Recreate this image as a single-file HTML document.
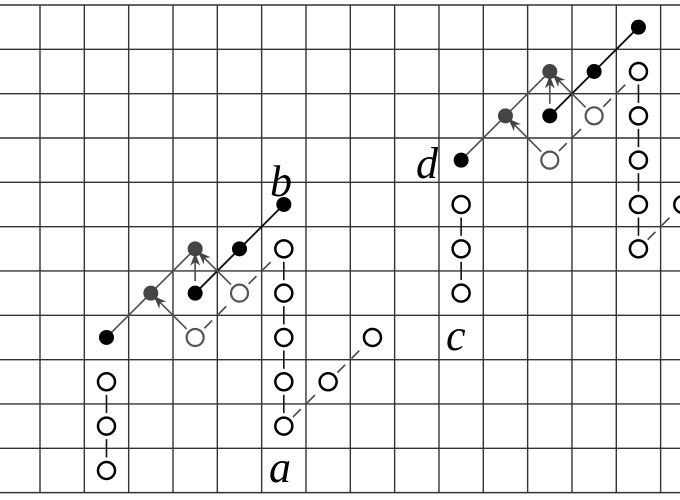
<!DOCTYPE html>
<html><head><meta charset="utf-8"><style>
html,body{margin:0;padding:0;background:#fff;width:680px;height:500px;overflow:hidden}
svg{display:block}
text{font-family:"Liberation Serif",serif;font-style:italic;font-size:44px;fill:#000}
</style></head><body>
<svg id="fig" width="680" height="500" viewBox="0 0 680 500">
<defs>
<marker id="ah" markerWidth="14" markerHeight="12" refX="12" refY="6" orient="auto" markerUnits="userSpaceOnUse">
<path d="M0,1 L13,6 L0,11 L4,6 Z" fill="#444"/>
</marker>
</defs>
<g id="grid"></g>
<g id="edges"></g>
<g id="nodes"></g>
<text x="269" y="482">a</text>
<text x="270" y="196">b</text>
<text x="446" y="350">c</text>
<text x="416" y="178">d</text>
</svg>
<script>
const openNodes=[[2,11],[2,10],[2,9],[6,6],[6,7],[6,8],[6,9],[6,10],[7,9],[8,8],[10,5],[10,6],[10,7],[14,2],[14,3],[14,4],[14,5],[14,6],[15,5]];
const grayOpen=[[4,8],[5,7],[12,4],[13,3]];
const blackNodes=[[2,8],[4,7],[5,6],[6,5],[10,4],[12,3],[13,2],[14,1]];
const grayFilled=[[3,7],[4,6],[11,3],[12,2]];
const solidEdges=[[[2,11],[2,10]],[[2,10],[2,9]],[[6,6],[6,7]],[[6,7],[6,8]],[[6,8],[6,9]],[[6,9],[6,10]],[[10,5],[10,6]],[[10,6],[10,7]],[[14,2],[14,3]],[[14,3],[14,4]],[[14,4],[14,5]],[[14,5],[14,6]]];
const blackEdges=[[[4,7],[5,6]],[[5,6],[6,5]],[[12,3],[13,2]],[[13,2],[14,1]]];
const grayEdges=[[[2,8],[3,7]],[[3,7],[4,6]],[[10,4],[11,3]],[[11,3],[12,2]]];
const dashedEdges=[[[4,8],[5,7]],[[5,7],[6,6]],[[6,10],[7,9]],[[7,9],[8,8]],[[12,4],[13,3]],[[13,3],[14,2]],[[14,6],[15,5]]];
const arrows=[[[4,8],[3,7]],[[5,7],[4,6]],[[4,7],[4,6]],[[12,4],[11,3]],[[13,3],[12,2]],[[12,3],[12,2]]];
const S=44.33, X0=40, Y0=5;
const X=j=>X0+S*(j-0.5), Y=r=>Y0+S*(r-0.5);
const NS="http://www.w3.org/2000/svg";
function mk(t,a,p){const e=document.createElementNS(NS,t);for(const k in a)e.setAttribute(k,a[k]);p.appendChild(e);return e;}
const grid=document.getElementById('grid');
for(let k=0;k<=14;k++){const l=mk('line',{x1:X0+S*k,y1:5,x2:X0+S*k,y2:492,stroke:'#333','stroke-width':1.4},grid);

}
for(let k=0;k<=11;k++){const l=mk('line',{x1:0,y1:Y0+S*k,x2:680,y2:Y0+S*k,stroke:'#333','stroke-width':1.4},grid);

}
const eg=document.getElementById('edges');
function seg(a,b,gap1,gap2,attrs,name){const x1=X(a[0]),y1=Y(a[1]),x2=X(b[0]),y2=Y(b[1]);const d=Math.hypot(x2-x1,y2-y1),ux=(x2-x1)/d,uy=(y2-y1)/d;
const l=mk('line',Object.assign({x1:x1+ux*gap1,y1:y1+uy*gap1,x2:x2-ux*gap2,y2:y2-uy*gap2},attrs),eg);

}
solidEdges.forEach(e=>seg(e[0],e[1],13,13,{stroke:'#111','stroke-width':1.6},'solid-edge'));
blackEdges.forEach(e=>seg(e[0],e[1],0,0,{stroke:'#111','stroke-width':1.9},'black-path-edge'));
grayEdges.forEach(e=>seg(e[0],e[1],0,0,{stroke:'#555','stroke-width':1.7},'gray-path-edge'));
dashedEdges.forEach(e=>seg(e[0],e[1],13,13,{stroke:'#444','stroke-width':1.6,'stroke-dasharray':'11,9'},'dashed-edge'));
arrows.forEach(e=>seg(e[0],e[1],12,5,{stroke:'#555','stroke-width':1.7,'marker-end':'url(#ah)'},'arrow-edge'));
const ng=document.getElementById('nodes');
openNodes.forEach(p=>{const c=mk('circle',{cx:X(p[0]),cy:Y(p[1]),r:8.5,fill:'#fff',stroke:'#000','stroke-width':2.5},ng);

});
grayOpen.forEach(p=>{const c=mk('circle',{cx:X(p[0]),cy:Y(p[1]),r:8.5,fill:'#fff',stroke:'#555','stroke-width':2.2},ng);

});
blackNodes.forEach(p=>{const c=mk('circle',{cx:X(p[0]),cy:Y(p[1]),r:7.5,fill:'#000'},ng);

});
grayFilled.forEach(p=>{const c=mk('circle',{cx:X(p[0]),cy:Y(p[1]),r:7.5,fill:'#444'},ng);

});
</script>
</body></html>
